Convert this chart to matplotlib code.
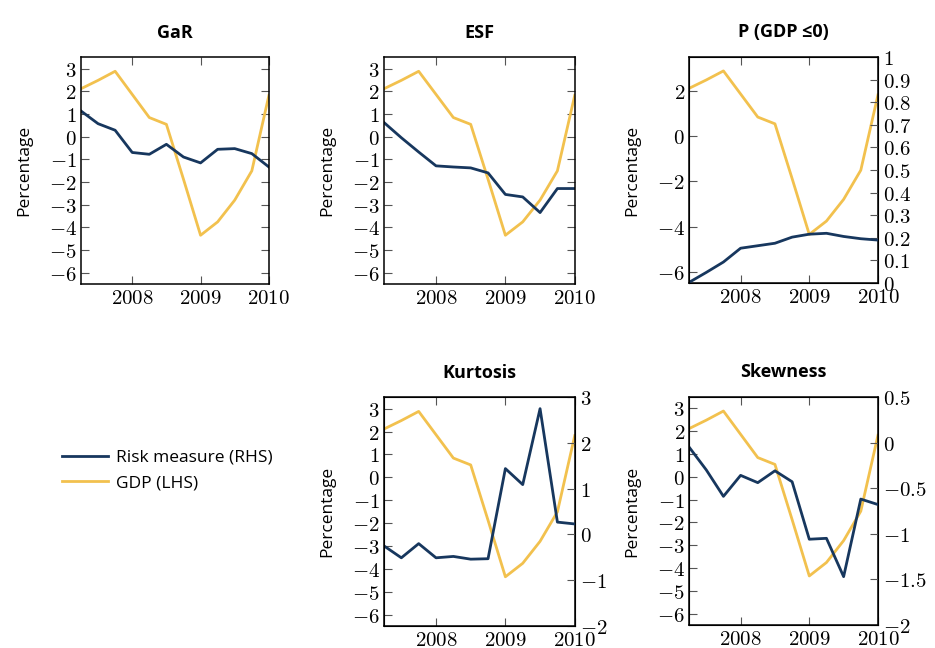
import numpy as np
import matplotlib.pyplot as plt
from matplotlib.ticker import FuncFormatter, MultipleLocator
from matplotlib.lines import Line2D

plt.rcParams['mathtext.fontset'] = 'cm'
plt.rcParams['font.family'] = ['Open Sans', 'DejaVu Sans']

# quarterly time axis
quarters = [2007.25, 2007.5, 2007.75, 2008.0, 2008.25, 2008.5,
            2008.75, 2009.0, 2009.25, 2009.5, 2009.75, 2010.0]

# GDP growth (LHS), same in every panel
gdp = [2.11, 2.48, 2.88, 1.86, 0.84, 0.54, -1.88, -4.35, -3.76, -2.80, -1.51, 1.82]

# risk measures
gar = [1.13, 0.57, 0.28, -0.70, -0.78, -0.34, -0.90, -1.16, -0.56, -0.53, -0.75, -1.34]
esf = [0.62, -0.05, -0.68, -1.29, -1.34, -1.38, -1.60, -2.55, -2.66, -3.35, -2.29, -2.29]
prob = [0.003, 0.047, 0.093, 0.154, 0.165, 0.176, 0.203, 0.216, 0.22, 0.206, 0.196, 0.19]
kurt = [-0.25, -0.51, -0.20, -0.51, -0.48, -0.54, -0.53, 1.44, 1.09, 2.75, 0.27, 0.23]
skew = [-0.05, -0.30, -0.59, -0.36, -0.44, -0.31, -0.43, -1.06, -1.05, -1.47, -0.62, -0.68]

navy = '#17375e'
gold = '#f2c14e'

fig = plt.figure(figsize=(9.35, 6.48), dpi=100)

def mfmt(v, pos):
    return '$%g$' % v

def style(ax, right=True):
    ax.tick_params(direction='in', length=6, width=0.8, color='#555555',
                   labelsize=15, top=True, right=right, pad=3)
    ax.xaxis.set_major_formatter(FuncFormatter(mfmt))
    ax.yaxis.set_major_formatter(FuncFormatter(mfmt))
    for s in ax.spines.values():
        s.set_linewidth(1.1)

def panel(rect, title, risk, ystep, rlim=None, rstep=None):
    ax = fig.add_axes(rect)
    ax.set_xlim(2007.25, 2010)
    ax.set_ylim(-6.5, 3.5)
    ax.set_xticks([2008, 2009, 2010])
    ax.yaxis.set_major_locator(MultipleLocator(ystep))
    ax.plot(quarters, gdp, color=gold, lw=2)
    ax.set_ylabel('Percentage', fontsize=12.5, labelpad=12)
    ax.set_title(title, fontsize=13, fontweight='bold', pad=14)
    if rlim is None:
        ax.plot(quarters, risk, color=navy, lw=2)
        style(ax, right=True)
    else:
        style(ax, right=False)
        ax2 = ax.twinx()
        ax2.set_ylim(*rlim)
        ax2.yaxis.set_major_locator(MultipleLocator(rstep))
        ax2.plot(quarters, risk, color=navy, lw=2)
        ax2.tick_params(direction='in', length=6, width=0.8, color='#555555', labelsize=15)
        ax2.yaxis.set_major_formatter(FuncFormatter(mfmt))
    return ax

panel([0.0866, 0.5617, 0.201, 0.350], 'GaR', gar, 1)
panel([0.4107, 0.5617, 0.204, 0.350], 'ESF', esf, 1)
panel([0.737, 0.5632, 0.202, 0.349], 'P (GDP ≤0)', prob, 2, (0, 1), 0.1)
panel([0.4107, 0.034, 0.204, 0.353], 'Kurtosis', kurt, 1, (-2, 3), 1)
panel([0.737, 0.0355, 0.202, 0.352], 'Skewness', skew, 1, (-2, 0.5), 0.5)

handles = [Line2D([], [], color=navy, lw=2), Line2D([], [], color=gold, lw=2)]
fig.legend(handles, ['Risk measure (RHS)', 'GDP (LHS)'], loc='center left',
           bbox_to_anchor=(0.05, 0.274), frameon=False, fontsize=12.5,
           handlelength=2.6, handletextpad=0.5, labelspacing=0.55)

fig.savefig('out.png', dpi=100)
